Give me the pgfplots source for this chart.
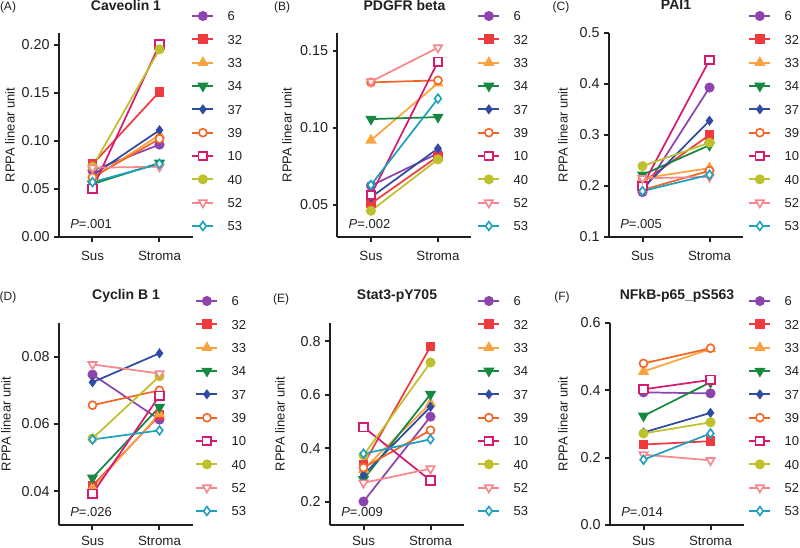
\documentclass[border=0pt]{standalone}
\usepackage{pgfplots}
\pgfplotsset{compat=1.18}
\usepackage{fontspec}
\setmainfont{Liberation Sans}
\definecolor{c6}{RGB}{142,68,173}
\definecolor{c32}{RGB}{239,59,64}
\definecolor{c33}{RGB}{250,164,64}
\definecolor{c34}{RGB}{22,136,64}
\definecolor{c37}{RGB}{47,75,163}
\definecolor{c39}{RGB}{242,101,34}
\definecolor{c10}{RGB}{214,26,112}
\definecolor{c40}{RGB}{190,192,44}
\definecolor{c52}{RGB}{246,135,140}
\definecolor{c53}{RGB}{30,160,190}
\definecolor{txt}{RGB}{35,31,32}
\newcommand{\fs}{\fontsize{9.75}{11}\selectfont}
\pgfplotscreateplotcyclelist{rppa}{
 {c6, mark=*, mark options={solid, fill=c6, mark size=3.1pt}},
 {c32, mark=square*, mark options={solid, fill=c32, mark size=3pt}},
 {c33, mark=triangle*, mark options={solid, fill=c33, mark size=3.6pt}},
 {c34, mark=triangle*, mark options={solid, fill=c34, mark size=3.6pt, rotate=180}},
 {c37, mark=diamond*, mark options={solid, fill=c37, mark size=2.8pt}},
 {c39, mark=*, mark options={solid, fill=white, mark size=3pt, line width=1.2pt}},
 {c10, mark=square*, mark options={solid, fill=white, mark size=3.2pt, line width=1.2pt}},
 {c40, mark=*, mark options={solid, fill=c40, mark size=3.1pt}},
 {c52, mark=triangle*, mark options={solid, fill=white, mark size=3.6pt, line width=1.2pt, rotate=180}},
 {c53, mark=diamond*, mark options={solid, fill=white, mark size=3.3pt, line width=1.2pt}},
}
\pgfplotsset{
 panel/.style={
  scale only axis, width=100.5pt, anchor=south west,
  xmin=-0.5, xmax=1.5, xtick={0,1}, xticklabels={Sus,Stroma},
  scaled y ticks=false, scaled x ticks=false,
  axis x line*=bottom, axis y line*=left,
  axis line style={line width=1.5pt, txt},
  tick style={line width=1.5pt, txt}, major tick length=3.5pt, tick align=outside,
  xticklabel style={font=\fontsize{10}{11}\selectfont, text=txt},
  yticklabel style={font=\fontsize{10.75}{12}\selectfont, text=txt},
  ylabel={RPPA linear unit},
  ylabel style={font=\fs, text=txt, anchor=center},
  title style={font=\bfseries\fontsize{10.5}{12}\selectfont, text=txt, at={(0.5,1)}, anchor=center},
  every axis plot/.append style={line width=1.3pt},
  cycle list name=rppa,
  clip=false,
  legend cell align=left,
  legend image code/.code={\path[draw=none, fill=none] (0pt,-4.5pt) rectangle (15.75pt,4.5pt);
    \draw[mark repeat=2,mark phase=2] plot coordinates {(0pt,0pt) (7.875pt,0pt) (15.75pt,0pt)};},
  legend style={anchor=north west, draw=none, fill=none, inner sep=0pt, outer sep=0pt,
    row sep=8.5pt, column sep=10pt, font=\fs, text=txt,
    nodes={inner sep=0pt, text height=7pt, text depth=0pt}},
 },
 row1/.style={height=153pt, title style={yshift=15pt}, xticklabel style={yshift=-3.5pt}},
 row2/.style={height=151.5pt, title style={yshift=14.5pt}, xticklabel style={yshift=-1.5pt}},
}
\newcommand{\pair}[2]{\addplot coordinates {(0,#1) (1,#2)};}
\newcommand{\pval}[1]{\node[anchor=west, font=\fs, text=txt, inner sep=0pt] at (axis description cs:0.082,0.066) {\textit{P}=.#1};}
\newcommand{\leg}{\legend{6,32,33,34,37,39,10,40,52,53}}
\begin{document}
\begin{tikzpicture}
\useasboundingbox (0,0) rectangle (600pt,410.25pt);
% panel letters
\node[font=\fontsize{9}{10}\selectfont, text=txt] at (6pt,405pt) {(A)};
\node[font=\fontsize{9}{10}\selectfont, text=txt] at (211.5pt,405pt) {(B)};
\node[font=\fontsize{9}{10}\selectfont, text=txt] at (420.75pt,405pt) {(C)};
\node[font=\fontsize{9}{10}\selectfont, text=txt] at (6pt,187.5pt) {(D)};
\node[font=\fontsize{9}{10}\selectfont, text=txt] at (210.75pt,186pt) {(E)};
\node[font=\fontsize{9}{10}\selectfont, text=txt] at (421.5pt,187.5pt) {(F)};

% (A) Caveolin 1
\begin{axis}[panel, row1, at={(44.25pt,232.5pt)},
  ymin=0, ymax=0.212, ytick={0,0.05,0.1,0.15,0.2}, yticklabels={0.00,0.05,0.10,0.15,0.20},
  title={Caveolin 1},
  ylabel style={at={(axis description cs:-0.366,0.5)}},
  legend style={at={(axis description cs:0.989,1.1127)}}]
\pair{0.069}{0.096}
\pair{0.0755}{0.151}
\pair{0.061}{0.106}
\pair{0.055}{0.077}
\pair{0.064}{0.111}
\pair{0.062}{0.102}
\pair{0.050}{0.200}
\pair{0.073}{0.195}
\pair{0.072}{0.073}
\pair{0.057}{0.076}
\leg
\pval{001}
\end{axis}

% (B) PDGFR beta
\begin{axis}[panel, row1, at={(253.1pt,232.5pt)},
  ymin=0.0293, ymax=0.1615, ytick={0.05,0.1,0.15}, yticklabels={0.05,0.10,0.15},
  title={PDGFR beta},
  ylabel style={at={(axis description cs:-0.377,0.5)}},
  legend style={at={(axis description cs:1.045,1.1127)}}]
\pair{0.0625}{0.0835}
\pair{0.051}{0.0815}
\pair{0.092}{0.129}
\pair{0.1057}{0.107}
\pair{0.055}{0.0867}
\pair{0.1295}{0.1308}
\pair{0.0565}{0.1429}
\pair{0.0463}{0.0796}
\pair{0.130}{0.152}
\pair{0.063}{0.119}
\leg
\pval{002}
\end{axis}

% (C) PAI1
\begin{axis}[panel, row1, at={(456.75pt,232.5pt)},
  ymin=0.1, ymax=0.5, ytick={0.1,0.2,0.3,0.4,0.5}, yticklabels={0.1,0.2,0.3,0.4,0.5},
  title={PAI1},
  ylabel style={at={(axis description cs:-0.343,0.5)}},
  legend style={at={(axis description cs:1.041,1.1127)}}]
\pair{0.188}{0.393}
\pair{0.207}{0.300}
\pair{0.215}{0.235}
\pair{0.222}{0.280}
\pair{0.195}{0.328}
\pair{0.192}{0.230}
\pair{0.200}{0.447}
\pair{0.239}{0.285}
\pair{0.215}{0.218}
\pair{0.190}{0.222}
\leg
\pval{005}
\end{axis}

% (D) Cyclin B 1
\begin{axis}[panel, row2, at={(44.25pt,16.5pt)},
  ymin=0.03, ymax=0.09, ytick={0.04,0.06,0.08}, yticklabels={0.04,0.06,0.08},
  title={Cyclin B 1},
  ylabel style={at={(axis description cs:-0.396,0.5)}},
  legend style={at={(axis description cs:1.019,1.1386)}}]
\pair{0.0747}{0.0613}
\pair{0.0416}{0.0626}
\pair{0.041}{0.063}
\pair{0.044}{0.065}
\pair{0.0724}{0.081}
\pair{0.0656}{0.070}
\pair{0.0393}{0.0684}
\pair{0.0557}{0.0742}
\pair{0.0777}{0.075}
\pair{0.0554}{0.0581}
\leg
\pval{026}
\end{axis}

% (E) Stat3-pY705
\begin{axis}[panel, row2, at={(247.5pt,16.5pt)},
  ymin=0.112, ymax=0.869, ytick={0.2,0.4,0.6,0.8}, yticklabels={0.2,0.4,0.6,0.8},
  title={Stat3-pY705},
  ylabel style={at={(axis description cs:-0.373,0.5)}},
  legend style={at={(axis description cs:1.101,1.1386)}}]
\pair{0.20}{0.518}
\pair{0.339}{0.781}
\pair{0.32}{0.568}
\pair{0.283}{0.602}
\pair{0.30}{0.555}
\pair{0.327}{0.467}
\pair{0.479}{0.279}
\pair{0.373}{0.721}
\pair{0.27}{0.323}
\pair{0.379}{0.433}
\leg
\pval{009}
\end{axis}

% (F) NFkB-p65_pS563
\begin{axis}[panel, row2, at={(457.5pt,16.5pt)},
  ymin=0, ymax=0.6, ytick={0,0.2,0.4,0.6}, yticklabels={0.0,0.2,0.4,0.6},
  title={NFkB-p65\_pS563},
  ylabel style={at={(axis description cs:-0.351,0.5)}},
  legend style={at={(axis description cs:1.034,1.1386)}}]
\pair{0.394}{0.391}
\pair{0.239}{0.249}
\pair{0.456}{0.523}
\pair{0.324}{0.424}
\pair{0.275}{0.333}
\pair{0.48}{0.525}
\pair{0.403}{0.431}
\pair{0.272}{0.305}
\pair{0.209}{0.192}
\pair{0.194}{0.272}
\leg
\pval{014}
\end{axis}
\end{tikzpicture}
\end{document}
